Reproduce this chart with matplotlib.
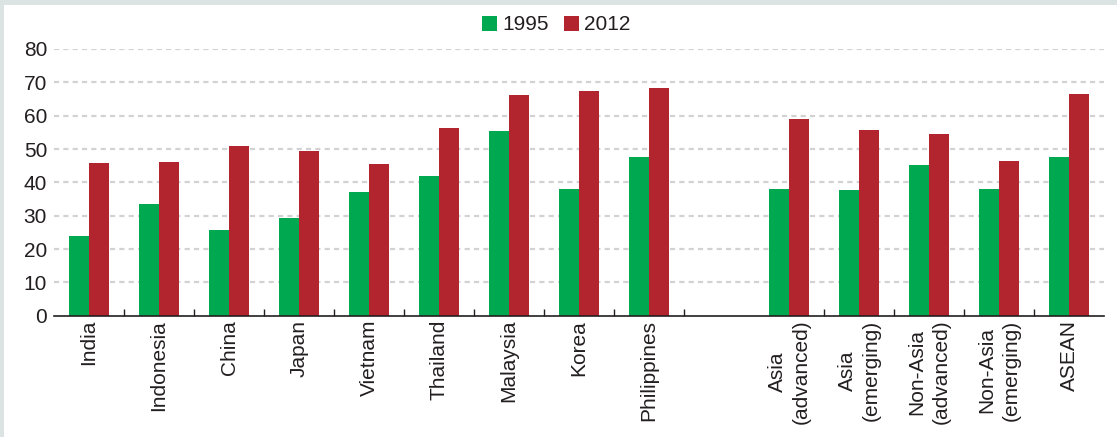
import matplotlib
matplotlib.use("Agg")
import matplotlib.pyplot as plt
from matplotlib.patches import Rectangle, Patch
import numpy as np

plt.rcParams['font.family'] = ['Liberation Sans', 'DejaVu Sans']

# data
categories = ["India", "Indonesia", "China", "Japan", "Vietnam", "Thailand",
              "Malaysia", "Korea", "Philippines", "",
              "Asia\n(advanced)", "Asia\n(emerging)", "Non-Asia\n(advanced)",
              "Non-Asia\n(emerging)", "ASEAN"]
v1995 = [23.9, 33.5, 25.7, 29.3, 37.1, 41.9, 55.4, 38.0, 47.6, np.nan,
         38.0, 37.7, 45.2, 38.0, 47.6]
v2012 = [45.8, 46.1, 50.9, 49.4, 45.5, 56.3, 66.2, 67.4, 68.3, np.nan,
         59.0, 55.7, 54.5, 46.4, 66.5]
series_names = ["1995", "2012"]
yticks = [0, 10, 20, 30, 40, 50, 60, 70, 80]

GREEN = "#00a84f"
RED = "#b2242e"
TXT = "#231f20"

W, H = 1117, 437
fig = plt.figure(figsize=(W / 100, H / 100), dpi=100, facecolor="#dce4e3")
# white card, leaving a thin grey band at top and left
fig.patches.append(Rectangle((4 / W, 0), 1, (H - 5) / H, transform=fig.transFigure,
                             facecolor="white", edgecolor="none", zorder=-5))

ax = fig.add_axes([54 / W, (H - 315.7) / H, (1104 - 54) / W, (315.7 - 49) / H])
ax.set_facecolor("white")

x = np.arange(len(categories))
bw = 20 / 70
ax.bar(x - bw / 2, v1995, width=bw, color=GREEN, zorder=3)
ax.bar(x + bw / 2, v2012, width=bw, color=RED, zorder=3)

ax.set_xlim(-0.5, len(categories) - 0.5)
ax.set_ylim(0, 80)
ax.set_yticks(yticks)
ax.set_yticklabels([str(t) for t in yticks], fontsize=15, color=TXT)

ax.set_xticks(x)
ax.set_xticklabels(categories, rotation=90, fontsize=15, color=TXT,
                   linespacing=1.3, ha="center", va="top")
bounds = [i + 0.5 for i in range(len(categories) - 1) if i != 9]
ax.set_xticks(bounds, minor=True)
ax.tick_params(axis="x", which="major", length=0, pad=3)
ax.tick_params(axis="x", which="minor", direction="in", length=5, width=1, color=TXT)
ax.tick_params(axis="y", length=0, pad=5)

for s in ["left", "right", "top"]:
    ax.spines[s].set_visible(False)
ax.spines["bottom"].set_color(TXT)
ax.spines["bottom"].set_linewidth(1.2)
ax.spines["bottom"].set_zorder(4)

for t in yticks[1:]:
    ax.axhline(t, color="#d2d2d2", linewidth=1.6, linestyle=(0, (2.3, 1.9)), zorder=1)

handles = [Patch(facecolor=GREEN, edgecolor="none"), Patch(facecolor=RED, edgecolor="none")]
fig.legend(handles, series_names, loc="center", bbox_to_anchor=(556 / W, 1 - 25 / H),
           ncol=2, frameon=False, fontsize=15, handlelength=0.72, handleheight=0.72,
           handletextpad=0.25, columnspacing=0.72, labelcolor=TXT)

fig.savefig("out.png", dpi=100, facecolor=fig.get_facecolor())
